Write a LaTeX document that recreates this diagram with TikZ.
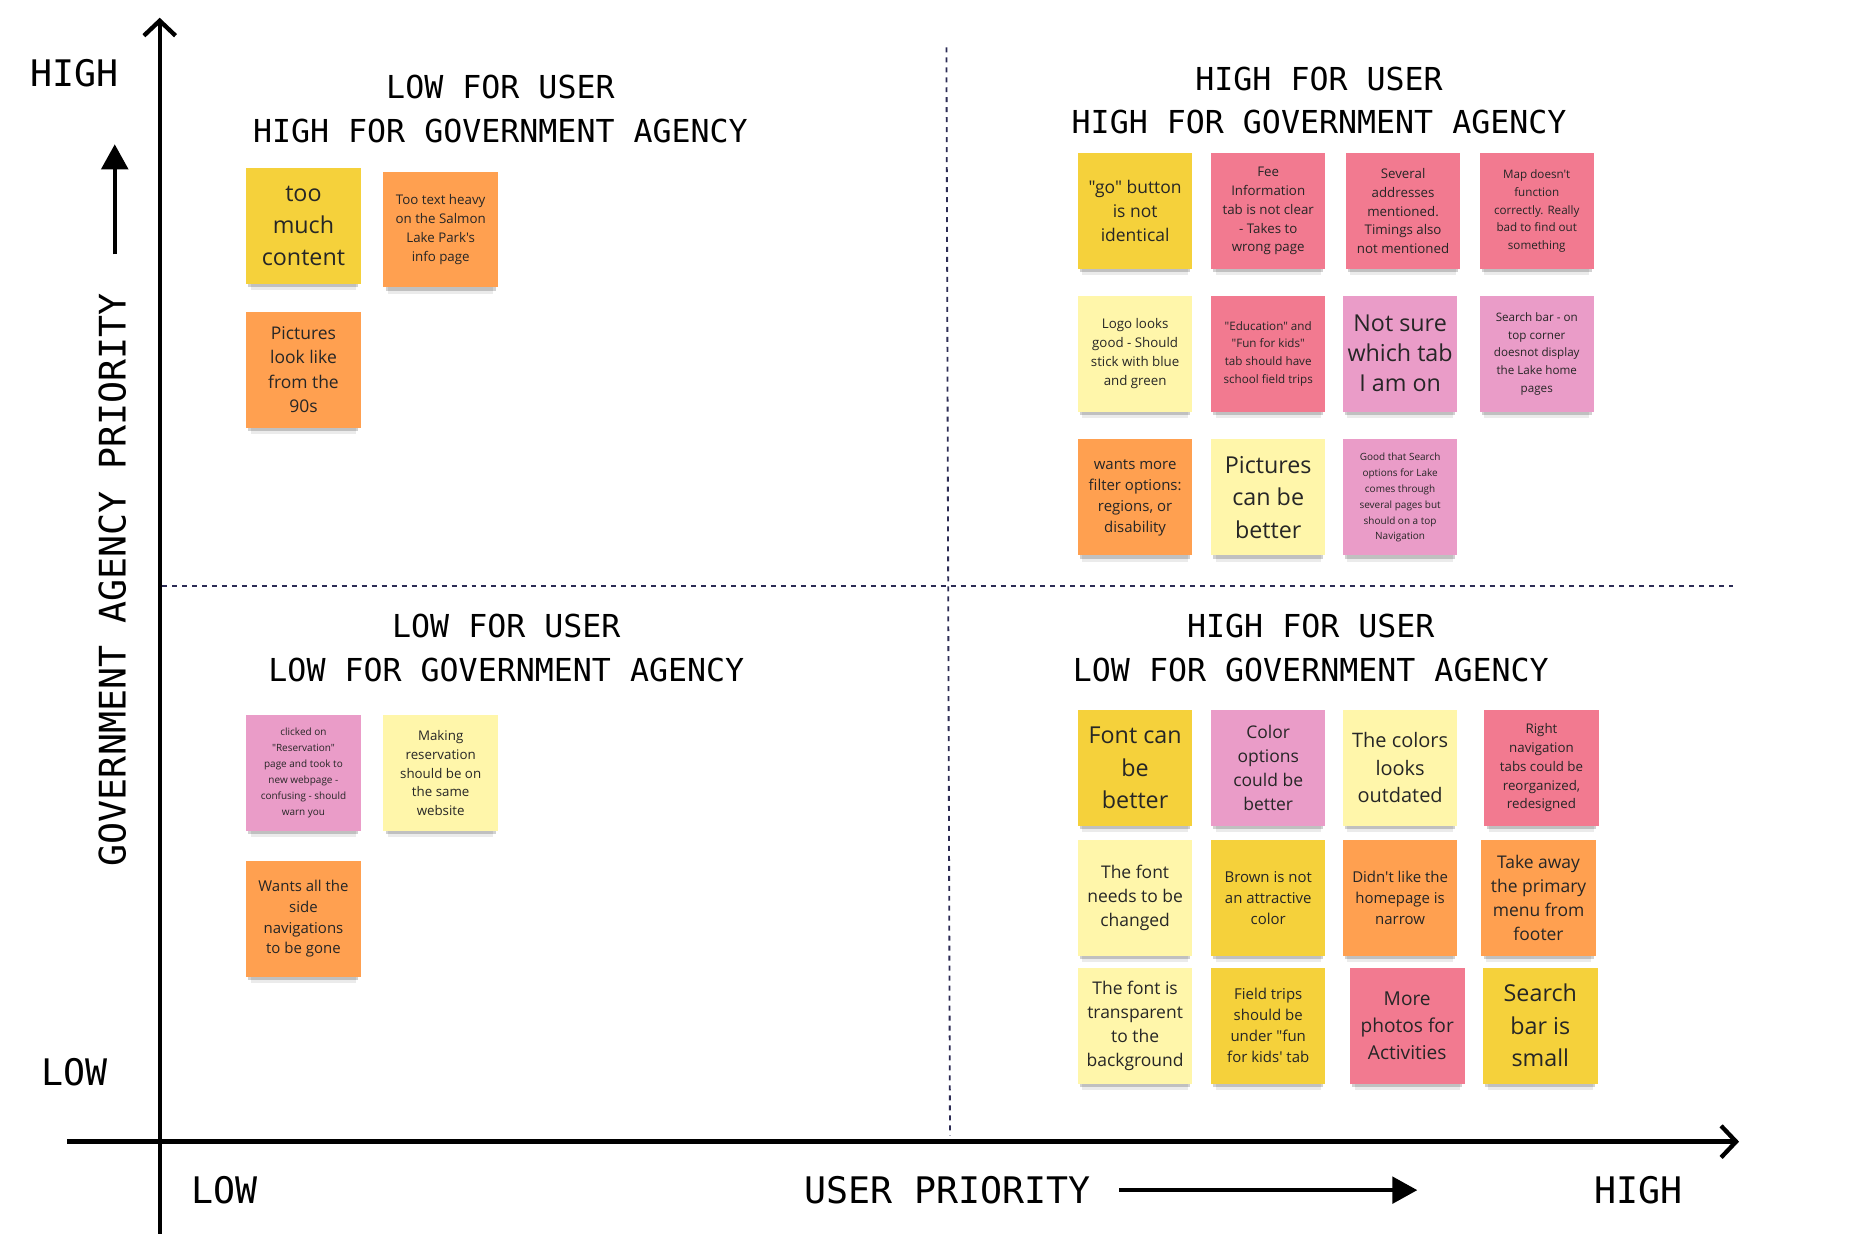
\documentclass[tikz,border=0pt]{standalone}
\usepackage{fontspec}
\setmainfont{Open Sans}[Ligatures=TeXOff]
\newfontfamily\monofont{DejaVu Sans Mono}
\usetikzlibrary{
    positioning,
    arrows.meta,
    shadows
}
\definecolor{noteYellow}{HTML}{F5D13B}
\definecolor{noteOrange}{HTML}{FFA050}
\definecolor{noteRed}{HTML}{F27A90}
\definecolor{notePink}{HTML}{EA9CC8}
\definecolor{noteLight}{HTML}{FFF6AA}
\definecolor{divider}{HTML}{2C2C55}
\tikzset{
    note/.style={
        fill=#1,
        minimum width=2.42cm,
        minimum height=2.45cm,
        inner sep=1pt,
        align=center,
        text=black!85,
        general shadow={fill=black, opacity=.08, shadow yshift=-7pt, shadow scale=.92},
        general shadow={fill=black, opacity=.18, shadow yshift=-3.5pt, shadow scale=.96}
    },
    text A/.style={font=\fontsize{14}{19.5}\selectfont},
    text B/.style={font=\fontsize{12}{16.5}\selectfont},
    text C/.style={font=\fontsize{10.5}{14.5}\selectfont},
    text D/.style={font=\fontsize{9}{12.6}\selectfont},
    text E/.style={font=\fontsize{8}{11.3}\selectfont},
    text F/.style={font=\fontsize{7}{10.6}\selectfont},
    text G/.style={font=\fontsize{6}{9.6}\selectfont},
    axis label/.style={font=\monofont\fontsize{22}{26}\selectfont},
    quad title/.style={font=\monofont\fontsize{19}{26.3}\selectfont, align=center}
}

\begin{document}
\begin{tikzpicture}[
    x=0.025cm,
    y=-0.025cm
]
    \useasboundingbox[fill=white] (0,0) rectangle (1568,1047);

    % Ejes
    \coordinate (yBot)   at (135,1043);
    \coordinate (yTop)   at (135,15);
    \coordinate (xLeft)  at (57,965);
    \coordinate (xRight) at (1470,965);
    \draw[line width=2.6pt, -{Straight Barb[length=9pt, width=19pt]}] (yBot) -- (yTop);
    \draw[line width=2.6pt, -{Straight Barb[length=9pt, width=19pt]}] (xLeft) -- (xRight);

    % Divisiones
    \coordinate (vTop)   at (800,40);
    \coordinate (vBot)   at (803,960);
    \coordinate (hLeft)  at (137,495);
    \coordinate (hRight) at (1465,495);
    \draw[divider, line width=1.1pt, dash pattern=on 3pt off 3pt] (vTop) -- (vBot);
    \draw[divider, line width=1.1pt, dash pattern=on 3pt off 3pt] (hLeft) -- (hRight);

    % Etiquetas de ejes
    \node[axis label]            (yHigh) at (63,62)   {HIGH};
    \node[axis label]            (yLow)  at (63,906)  {LOW};
    \node[axis label, rotate=90] (yName) at (95,490)  {GOVERNMENT AGENCY PRIORITY};
    \node[axis label]            (xLow)  at (190,1006) {LOW};
    \node[axis label]            (xName) at (801,1006) {USER PRIORITY};
    \node[axis label]            (xHigh) at (1385,1006) {HIGH};

    \coordinate (upFrom)    at (97,215);
    \coordinate (upTo)      at (97,122);
    \coordinate (rightFrom) at (946,1006);
    \coordinate (rightTo)   at (1198,1006);
    \draw[line width=2.1pt, -{Triangle[length=15pt, width=16pt]}] (upFrom) -- (upTo);
    \draw[line width=2.1pt, -{Triangle[length=15pt, width=16pt]}] (rightFrom) -- (rightTo);

    % Titulos de cuadrantes
    \node[quad title] (tlTitle) at (423,92)  {LOW FOR USER\\HIGH FOR GOVERNMENT AGENCY};
    \node[quad title] (trTitle) at (1115,85) {HIGH FOR USER\\HIGH FOR GOVERNMENT AGENCY};
    \node[quad title] (blTitle) at (428,548) {LOW FOR USER\\LOW FOR GOVERNMENT AGENCY};
    \node[quad title] (brTitle) at (1108,548) {HIGH FOR USER\\LOW FOR GOVERNMENT AGENCY};

    % Notas: bajo usuario, alta agencia
    \node[note=noteYellow, text A] (tl1) at (256.5,191)   {too\\much\\content};
    \node[note=noteOrange, text E] (tl2) at (372.5,194)   {Too text heavy\\on the Salmon\\Lake Park's\\info page};
    \node[note=noteOrange, text C] (tl3) at (256.5,312.5) {Pictures\\look like\\from the\\90s};

    % Notas: alto usuario, alta agencia
    \node[note=noteYellow, text C] (tr1)  at (959.5,178.5) {"go" button\\is not\\identical};
    \node[note=noteRed,    text E] (tr2)  at (1072,178.5)  {Fee\\Information\\tab is not clear\\- Takes to\\wrong page};
    \node[note=noteRed,    text E] (tr3)  at (1186,178.5)  {Several\\addresses\\mentioned.\\Timings also\\not mentioned};
    \node[note=noteRed,    text F] (tr4)  at (1299,178.5)  {Map doesn't\\function\\correctly. Really\\bad to find out\\something};
    \node[note=noteLight,  text E] (tr5)  at (959.5,299)   {Logo looks\\good - Should\\stick with blue\\and green};
    \node[note=noteRed,    text F] (tr6)  at (1072,299)    {"Education" and\\"Fun for kids"\\tab should have\\school field trips};
    \node[note=notePink,   text A, font=\fontsize{14}{18}\selectfont] (tr7) at (1183.5,299) {Not sure\\which tab\\I am on};
    \node[note=notePink,   text F] (tr8)  at (1299,299)    {Search bar - on\\top corner\\doesnot display\\the Lake home\\pages};
    \node[note=noteOrange, text D] (tr9)  at (959.5,420.5) {wants more\\filter options:\\regions, or\\disability};
    \node[note=noteLight,  text A] (tr10) at (1072,420.5)  {Pictures\\can be\\better};
    \node[note=notePink,   text G] (tr11) at (1183.5,420.5) {Good that Search\\options for Lake\\comes through\\several pages but\\should on a top\\Navigation};

    % Notas: bajo usuario, baja agencia
    \node[note=notePink,   text G] (bl1) at (256.5,653.5) {clicked on\\"Reservation"\\page and took to\\new webpage -\\confusing - should\\warn you};
    \node[note=noteLight,  text E] (bl2) at (372.5,653.5) {Making\\reservation\\should be on\\the same\\website};
    \node[note=noteOrange, text D] (bl3) at (256.5,776.5) {Wants all the\\side\\navigations\\to be gone};

    % Notas: alto usuario, baja agencia
    \node[note=noteYellow, text A] (br1)  at (959.5,649)  {Font can\\be\\better};
    \node[note=notePink,   text C] (br2)  at (1072,649)   {Color\\options\\could be\\better};
    \node[note=noteLight,  text B] (br3)  at (1183.5,649) {The colors\\looks\\outdated};
    \node[note=noteRed,    text E] (br4)  at (1303,649)   {Right\\navigation\\tabs could be\\reorganized,\\redesigned};
    \node[note=noteLight,  text C] (br5)  at (959.5,759)  {The font\\needs to be\\changed};
    \node[note=noteYellow, text D] (br6)  at (1072,759)   {Brown is not\\an attractive\\color};
    \node[note=noteOrange, text D] (br7)  at (1183.5,759) {Didn't like the\\homepage is\\narrow};
    \node[note=noteOrange, text C] (br8)  at (1300.5,759) {Take away\\the primary\\menu from\\footer};
    \node[note=noteLight,  text C] (br9)  at (959.5,867)  {The font is\\transparent\\to the\\background};
    \node[note=noteYellow, text D] (br10) at (1072,867)   {Field trips\\should be\\under "fun\\for kids' tab};
    \node[note=noteRed,    text B, font=\fontsize{11.5}{16}\selectfont] (br11) at (1189.5,867) {More\\photos for\\Activities};
    \node[note=noteYellow, text A] (br12) at (1302,867)   {Search\\bar is\\small};

\end{tikzpicture}
\end{document}
